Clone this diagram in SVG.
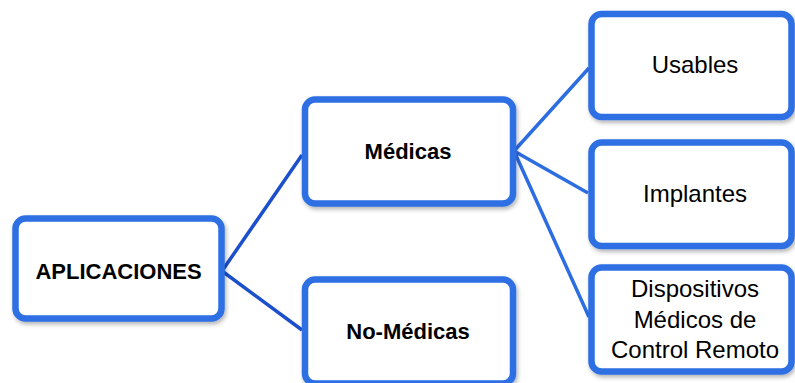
<svg xmlns="http://www.w3.org/2000/svg" width="795" height="383" viewBox="0 0 795 383">
<defs>
<filter id="sh" x="-10%" y="-10%" width="125%" height="130%">
<feDropShadow dx="1.5" dy="2.5" stdDeviation="2" flood-color="#000" flood-opacity="0.3"/>
</filter>
<style>
.box{fill:#fff;stroke:#2D6FE3;stroke-width:6.5;filter:url(#sh)}
.lk{stroke:#1B4FCC;stroke-width:3.5;fill:none}
.ll{stroke:#2D6DE2;stroke-width:3.5;fill:none}
.b{font-family:"Liberation Sans",Arial,sans-serif;font-weight:bold;font-size:22px;fill:#000;text-anchor:middle}
.r{font-family:"Liberation Sans",Arial,sans-serif;font-size:24px;fill:#000;text-anchor:middle}
</style>
</defs>
<rect width="795" height="383" fill="#fff"/>
<g id="connectors">
<path class="lk" d="M222 271 L302 155 M222 271 L302 330"/>
<path class="ll" d="M514 151 L589 68 M514 151 L588 193 M514 151 L589 317"/>
</g>
<g id="aplicaciones">
<rect class="box" x="15.5" y="218.5" width="206" height="100" rx="10"/>
<text class="b" x="118.5" y="279">APLICACIONES</text>
</g>
<g id="medicas">
<rect class="box" x="305" y="99.5" width="208" height="104" rx="10"/>
<text class="b" x="408" y="158.5">Médicas</text>
</g>
<g id="no-medicas">
<rect class="box" x="305" y="279.5" width="208" height="104" rx="10"/>
<text class="b" x="408" y="338.5">No-Médicas</text>
</g>
<g id="usables">
<rect class="box" x="591.5" y="14" width="200" height="103" rx="10"/>
<text class="r" x="695" y="73">Usables</text>
</g>
<g id="implantes">
<rect class="box" x="591.5" y="142.5" width="200" height="103.5" rx="10"/>
<text class="r" x="695" y="202">Implantes</text>
</g>
<g id="dispositivos">
<rect class="box" x="591.5" y="267.5" width="200" height="104" rx="10"/>
<text class="r" x="695" y="297">Dispositivos</text>
<text class="r" x="695" y="328">Médicos de</text>
<text class="r" x="695" y="358">Control Remoto</text>
</g>
</svg>
